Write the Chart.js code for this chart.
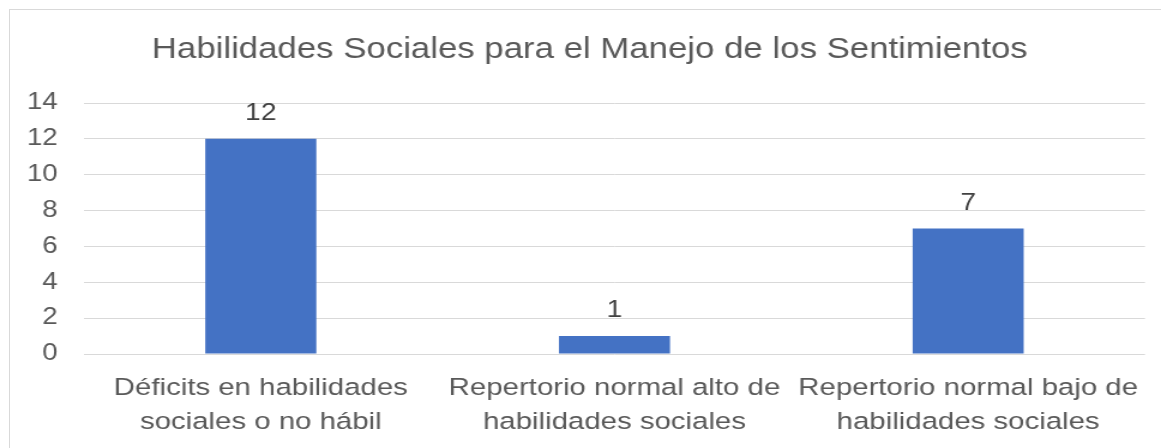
<!DOCTYPE html>
<html>
<head>
<meta charset="utf-8">
<script src="https://cdn.jsdelivr.net/npm/chart.js@4/dist/chart.umd.min.js"></script>
<style>
  html, body { margin: 0; padding: 0; background: #ffffff; overflow: hidden; }
  #wrap { position: relative; width: 1161px; height: 448px; overflow: hidden; }
  #frame {
    position: absolute; left: 9px; top: 9px; width: 1170px; height: 460px;
    border: 1px solid #d9d9d9; box-sizing: border-box;
  }
  /* the chart is laid out on a narrower canvas and widened to the page */
  #stage {
    position: absolute; left: 0; top: 0; width: 968px; height: 448px;
    transform: scaleX(1.19938); transform-origin: 0 0;
  }
  #chart { display: block; }
</style>
</head>
<body>
<div id="wrap">
  <div id="frame"></div>
  <div id="stage"><canvas id="chart" width="968" height="448"></canvas></div>
</div>
<script>
const chartTitle = 'Habilidades Sociales para el Manejo de los Sentimientos';
const categories = [
  ['Déficits en habilidades', 'sociales o no hábil'],
  ['Repertorio normal alto de', 'habilidades sociales'],
  ['Repertorio normal bajo de', 'habilidades sociales']
];
const counts = [12, 1, 7];
const yTicks = [0, 2, 4, 6, 8, 10, 12, 14];

const FONT = '"Liberation Sans", Arial, sans-serif';

// Centres the title over the framed area rather than the whole canvas
const titleSpan = {
  id: 'titleSpan',
  afterLayout(chart) {
    const t = chart.titleBlock;
    if (t) { t.left = 28.4; t.right = chart.width - 13; }
  }
};

// Writes each bar's value above it
const valueLabels = {
  id: 'valueLabels',
  afterDatasetsDraw(chart) {
    const ctx = chart.ctx;
    const meta = chart.getDatasetMeta(0);
    const values = chart.data.datasets[0].data;
    ctx.save();
    ctx.font = '23.5px ' + FONT;
    ctx.fillStyle = '#404040';
    ctx.textAlign = 'center';
    ctx.textBaseline = 'alphabetic';
    meta.data.forEach((bar, i) => {
      ctx.fillText(String(values[i]), bar.x, bar.y - 19);
    });
    ctx.restore();
  }
};

new Chart(document.getElementById('chart'), {
  type: 'bar',
  data: {
    labels: categories,
    datasets: [{
      data: counts,
      backgroundColor: '#4472C4',
      borderWidth: 0,
      categoryPercentage: 1,
      barPercentage: 0.314
    }]
  },
  options: {
    responsive: false,
    animation: false,
    layout: { padding: { left: 0, right: 13, top: 0, bottom: 0 } },
    plugins: {
      legend: { display: false },
      tooltip: { enabled: false },
      title: {
        display: true,
        text: chartTitle,
        color: '#595959',
        font: { family: FONT, size: 29, weight: 'normal', lineHeight: 1.2 },
        padding: { top: 33, bottom: 35.2 }
      }
    },
    scales: {
      x: {
        afterFit(scale) { scale.height = 94; },
        grid: { display: false, drawTicks: false },
        border: { display: false },
        ticks: {
          color: '#595959',
          font: { family: FONT, size: 24.5, lineHeight: 1.388 },
          padding: 17,
          maxRotation: 0,
          minRotation: 0,
          autoSkip: false
        }
      },
      y: {
        min: 0,
        max: 14,
        afterFit(scale) { scale.width = 70; },
        afterBuildTicks(scale) { scale.ticks = yTicks.map(v => ({ value: v })); },
        grid: { color: '#d9d9d9', lineWidth: 1, drawTicks: false },
        border: { display: false },
        ticks: {
          color: '#595959',
          font: { family: FONT, size: 23 },
          padding: 22
        }
      }
    }
  },
  plugins: [titleSpan, valueLabels]
});
</script>
</body>
</html>
